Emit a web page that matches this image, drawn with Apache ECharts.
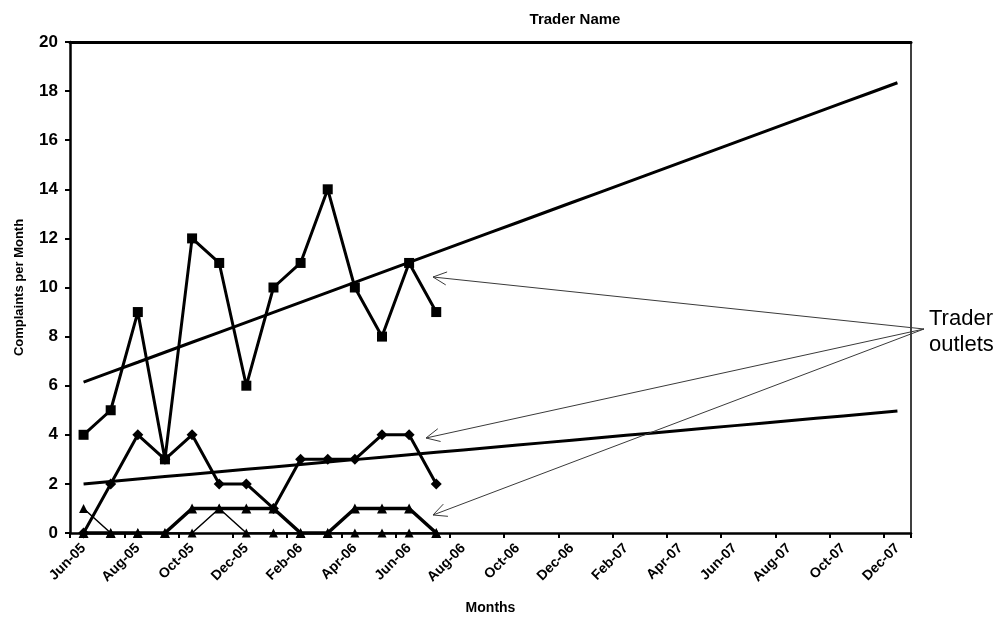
<!DOCTYPE html>
<html>
<head>
<meta charset="utf-8">
<script src="https://cdn.jsdelivr.net/npm/echarts@6/dist/echarts.min.js"></script>
<style>
  html, body { margin: 0; padding: 0; background: #ffffff; }
  #chart { width: 1000px; height: 624px; }
</style>
</head>
<body>
<div id="chart"></div>
<script>
// Monthly categories on the horizontal axis
const months = [
  'Jun-05','Jul-05','Aug-05','Sep-05','Oct-05','Nov-05','Dec-05',
  'Jan-06','Feb-06','Mar-06','Apr-06','May-06','Jun-06','Jul-06','Aug-06','Sep-06','Oct-06','Nov-06','Dec-06',
  'Jan-07','Feb-07','Mar-07','Apr-07','May-07','Jun-07','Jul-07','Aug-07','Sep-07','Oct-07','Nov-07','Dec-07'
];

// Complaints per month for each outlet (Jun-05 .. Jul-06)
const outletSquare   = [4, 5, 9, 3, 12, 11, 6, 10, 11, 14, 10, 8, 11, 9];
const outletDiamond  = [0, 2, 4, 3, 4, 2, 2, 1, 3, 3, 3, 4, 4, 2];
const outletTriangle = [0, 0, 0, 0, 1, 1, 1, 1, 0, 0, 1, 1, 1, 0];
const outletThin     = [1, 0, 0, 0, 0, 1, 0, 0, 0, 0, 0, 0, 0, 0];

// Value axis range
const yMin = 0, yMax = 20, yStep = 2;

const FONT = '"Liberation Sans", Arial, sans-serif';

// Least-squares linear trend, evaluated across every month on the axis
function linearTrend(values, count) {
  const n = values.length;
  let sx = 0, sy = 0, sxy = 0, sxx = 0;
  values.forEach((v, i) => { sx += i; sy += v; sxy += i * v; sxx += i * i; });
  const slope = (n * sxy - sx * sy) / (n * sxx - sx * sx);
  const intercept = (sy - slope * sx) / n;
  return Array.from({ length: count }, (_, i) => +(intercept + slope * i).toFixed(4));
}

const trendSquare  = linearTrend(outletSquare, months.length);
const trendDiamond = linearTrend(outletDiamond, months.length);

const chart = echarts.init(document.getElementById('chart'), null, { renderer: 'canvas' });

const black = '#000000';

function lineSeries(name, data, symbol, symbolSize, width) {
  return {
    name, type: 'line', data, symbol, symbolSize,
    showSymbol: true,
    lineStyle: { color: black, width },
    itemStyle: { color: black, borderColor: black, borderWidth: 0 },
    emphasis: { disabled: true },
    animation: false,
    z: 3
  };
}

function trendSeries(name, data) {
  return {
    name, type: 'line', data, symbol: 'none',
    lineStyle: { color: black, width: 3 },
    emphasis: { disabled: true },
    animation: false,
    z: 2
  };
}

// Annotation arrows from the "Trader outlets" note
const arrowOrigin = [924, 329];
const arrowTips = [[433, 277], [426, 438], [433, 515]];

function arrowGraphics() {
  const items = [];
  const arrowColor = '#3a3a3a';
  arrowTips.forEach(tip => {
    items.push({
      type: 'line',
      shape: { x1: arrowOrigin[0], y1: arrowOrigin[1], x2: tip[0], y2: tip[1] },
      style: { stroke: arrowColor, lineWidth: 1 },
      z: 10
    });
    const ang = Math.atan2(arrowOrigin[1] - tip[1], arrowOrigin[0] - tip[0]);
    const len = 15, spread = 0.45;
    [ang - spread, ang + spread].forEach(a => {
      items.push({
        type: 'line',
        shape: { x1: tip[0], y1: tip[1], x2: tip[0] + len * Math.cos(a), y2: tip[1] + len * Math.sin(a) },
        style: { stroke: arrowColor, lineWidth: 1 },
        z: 10
      });
    });
  });
  items.push({
    type: 'text',
    left: 929, top: 306,
    style: {
      text: 'Trader\noutlets',
      font: '22px ' + FONT,
      fill: black,
      lineHeight: 26
    },
    z: 10
  });
  return items;
}

const option = {
  backgroundColor: '#ffffff',
  animation: false,
  title: {
    text: 'Trader Name',
    left: 570, top: 7, textAlign: 'center',
    textStyle: { fontFamily: FONT, fontSize: 15, fontWeight: 'bold', color: black }
  },
  grid: { left: 70, right: 89, top: 42, bottom: 91, containLabel: false },
  xAxis: [
    {
      type: 'category',
      data: months,
      boundaryGap: true,
      name: 'Months',
      nameLocation: 'middle',
      nameGap: 68,
      nameTextStyle: { fontFamily: FONT, fontSize: 14, fontWeight: 'bold', color: black },
      axisLine: { show: true, lineStyle: { color: black, width: 2.5 } },
      axisTick: { show: true, interval: 1, length: 5, lineStyle: { color: black, width: 2 } },
      axisLabel: {
        interval: 1, rotate: 45, margin: 13,
        fontFamily: FONT, fontSize: 14, fontWeight: 'bold', color: black
      },
      splitLine: { show: false }
    },
    {
      type: 'category',
      data: months,
      position: 'top',
      axisLine: { show: true, onZero: false, lineStyle: { color: black, width: 3 } },
      axisTick: { show: false },
      axisLabel: { show: false },
      splitLine: { show: false }
    }
  ],
  yAxis: [
    {
      type: 'value',
      min: yMin, max: yMax, interval: yStep,
      name: 'Complaints per Month',
      nameLocation: 'middle',
      nameGap: 44,
      nameRotate: 90,
      nameTextStyle: { fontFamily: FONT, fontSize: 13, fontWeight: 'bold', color: black },
      axisLine: { show: true, lineStyle: { color: black, width: 2.5 } },
      axisTick: { show: true, length: 5, lineStyle: { color: black, width: 2 } },
      axisLabel: { margin: 12, fontFamily: FONT, fontSize: 17, fontWeight: 'bold', color: black },
      splitLine: { show: false }
    },
    {
      type: 'value',
      min: yMin, max: yMax, interval: yStep,
      position: 'right',
      axisLine: { show: true, onZero: false, lineStyle: { color: black, width: 1.5 } },
      axisTick: { show: false },
      axisLabel: { show: false },
      splitLine: { show: false }
    }
  ],
  series: [
    trendSeries('Square trend', trendSquare),
    trendSeries('Diamond trend', trendDiamond),
    lineSeries('Outlet A', outletSquare, 'rect', 10, 3),
    lineSeries('Outlet B', outletDiamond, 'diamond', 11, 3),
    lineSeries('Outlet C', outletTriangle, 'triangle', 10, 3.5),
    lineSeries('Outlet D', outletThin, 'triangle', 9, 1.5)
  ],
  graphic: arrowGraphics()
};

chart.setOption(option);
</script>
</body>
</html>
